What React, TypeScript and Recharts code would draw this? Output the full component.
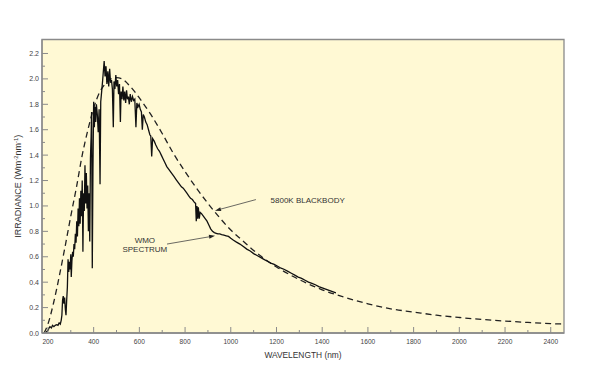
import React from 'react';
import { LineChart, Line, XAxis, YAxis, ReferenceArea, ReferenceLine, ReferenceDot, Label } from 'recharts';

// WMO extraterrestrial spectrum
const WMO_NM = [
  190, 194, 200, 205, 209, 215, 220, 226, 232, 238, 244, 249, 254, 258, 261, 264, 267, 270, 273, 276,
  279, 282, 285, 288, 291, 294, 297, 300, 302, 305, 308, 311, 314, 317, 320, 323, 326, 329, 332, 335,
  338, 341, 344, 347, 350, 353, 356, 359, 362, 365, 368, 371, 374, 377, 380, 383, 386, 389, 391, 394,
  397, 400, 403, 406, 409, 412, 416, 420, 424, 428, 431, 435, 439, 442, 446, 450, 454, 458, 462, 466,
  470, 474, 478, 482, 486, 489, 493, 497, 501, 505, 509, 513, 517, 520, 524, 528, 532, 536, 540, 544,
  548, 552, 556, 560, 565, 570, 575, 580, 585, 589, 594, 599, 604, 609, 613, 617, 622, 628, 634, 640,
  646, 650, 654, 658, 665, 672, 680, 688, 696, 704, 712, 720, 728, 736, 744, 752, 760, 768, 776, 784,
  792, 800, 808, 816, 824, 832, 840, 846, 849, 852, 855, 858, 862, 866, 872, 880, 888, 896, 904, 912,
  920, 928, 936, 944, 952, 960, 970, 980, 990, 1000, 1012, 1025, 1040, 1055, 1070, 1085, 1100, 1115, 1130, 1145,
  1160, 1175, 1190, 1205, 1220, 1235, 1250, 1265, 1280, 1295, 1310, 1325, 1340, 1355, 1370, 1385, 1400, 1415, 1430, 1445,
  1460,
];
const WMO_IRR = [
  0.0, 0.01, 0.02, 0.04, 0.05, 0.04, 0.06, 0.05, 0.06, 0.065, 0.06, 0.08, 0.07, 0.1, 0.14, 0.26, 0.29, 0.23, 0.28, 0.19,
  0.14, 0.26, 0.36, 0.58, 0.48, 0.56, 0.5, 0.62, 0.44, 0.57, 0.64, 0.6, 0.7, 0.66, 0.78, 0.71, 0.88, 0.76, 0.98, 0.84,
  1.06, 0.86, 1.12, 0.92, 1.2, 0.64, 1.1, 0.96, 1.32, 1.02, 1.26, 0.98, 1.16, 0.8, 1.1, 0.72, 1.38, 1.55, 1.74, 0.51,
  1.3, 1.82, 1.62, 1.78, 1.66, 1.8, 1.72, 1.58, 1.76, 1.17, 1.82, 1.9, 1.98, 2.05, 2.14, 2.02, 2.1, 1.96, 2.06, 1.94,
  2.08, 1.97, 1.99, 1.92, 1.62, 1.98, 1.92, 2.03, 1.94, 1.99, 1.88, 1.96, 1.66, 1.9, 1.84, 1.94, 1.83, 1.9, 1.81, 1.91,
  1.84, 1.86, 1.8, 1.88, 1.82, 1.86, 1.83, 1.84, 1.62, 1.81, 1.78, 1.8, 1.76, 1.74, 1.6, 1.72, 1.7, 1.66, 1.64, 1.6,
  1.56, 1.55, 1.39, 1.53, 1.51, 1.48, 1.45, 1.43, 1.4, 1.37, 1.34, 1.31, 1.29, 1.27, 1.25, 1.23, 1.21, 1.19, 1.17, 1.15,
  1.14, 1.12, 1.1, 1.08, 1.06, 1.05, 1.03, 1.02, 0.88, 1.0, 0.9, 0.99, 0.9, 0.95, 0.94, 0.92, 0.9, 0.88, 0.85, 0.82,
  0.8, 0.79, 0.785, 0.78, 0.78, 0.775, 0.77, 0.765, 0.76, 0.745, 0.73, 0.715, 0.7, 0.68, 0.66, 0.645, 0.625, 0.61, 0.595, 0.58,
  0.565, 0.55, 0.54, 0.525, 0.51, 0.5, 0.485, 0.47, 0.455, 0.44, 0.43, 0.415, 0.4, 0.39, 0.38, 0.365, 0.355, 0.345, 0.335, 0.325,
  0.315,
];

// 5800K blackbody curve
const BB_NM = [
  183, 200, 225, 250, 275, 300, 325, 350, 375, 400, 425, 450, 475, 500, 525, 550, 575, 600, 650, 700,
  750, 800, 850, 900, 950, 1000, 1050, 1100, 1150, 1200, 1300, 1400, 1500, 1600, 1700, 1800, 1900, 2000, 2100, 2200,
  2300, 2400, 2458,
];
const BB_IRR = [
  0.0, 0.07, 0.24, 0.45, 0.68, 0.92, 1.15, 1.4, 1.6, 1.77, 1.89, 1.96, 2.0, 2.01, 2.0, 1.96, 1.91, 1.85, 1.72, 1.57,
  1.41, 1.27, 1.14, 1.02, 0.91, 0.81, 0.73, 0.65, 0.58, 0.52, 0.42, 0.34, 0.28, 0.23, 0.19, 0.165, 0.14, 0.122, 0.107, 0.094,
  0.083, 0.074, 0.07,
];

const X_TICKS = [
  200, 300, 400, 500, 600, 700, 800, 900, 1000, 1100, 1200, 1300, 1400, 1500, 1600, 1700, 1800, 1900, 2000, 2100,
  2200, 2300, 2400,
];
const Y_TICKS = [
  0, 0.1, 0.2, 0.3, 0.4, 0.5, 0.6, 0.7, 0.8, 0.9, 1.0, 1.1, 1.2, 1.3, 1.4, 1.5, 1.6, 1.7, 1.8, 1.9, 2.0, 2.1, 2.2,
];

const X_DOMAIN = [174, 2458];
const Y_DOMAIN = [0, 2.31];

const wmoData = WMO_NM.map((nm, i) => ({ nm, v: WMO_IRR[i] }));
const bbData = BB_NM.map((nm, i) => ({ nm, v: BB_IRR[i] }));

const AXIS_GREY = '#8a8a8a';
const TEXT = '#333';
const FONT = '"Liberation Sans", Arial, sans-serif';

const XTick = (props: any) => {
  const { x, y, payload } = props;
  const major = payload.value % 200 === 0;
  return (
    <g>
      <line x1={x} x2={x} y1={y} y2={y - (major ? 6 : 3)} stroke={AXIS_GREY} strokeWidth={1} />
      {major && (
        <text x={x} y={y + 11} textAnchor="middle" fontSize={6.6} fill="#444" fontFamily={FONT}>
          {payload.value}
        </text>
      )}
    </g>
  );
};

const YTick = (props: any) => {
  const { x, y, payload } = props;
  const major = Math.round(payload.value * 10) % 2 === 0;
  return (
    <g>
      <line x1={x} x2={x + (major ? 6 : 3)} y1={y} y2={y} stroke={AXIS_GREY} strokeWidth={1} />
      {major && (
        <text x={x - 3} y={y + 2.5} textAnchor="end" fontSize={7} fill="#444" fontFamily={FONT}>
          {payload.value.toFixed(1)}
        </text>
      )}
    </g>
  );
};

// leader line with an arrow head at the second point
const Arrow = (props: any) => {
  const { x1, y1, x2, y2 } = props;
  const a = Math.atan2(y2 - y1, x2 - x1);
  const len = 6;
  const w = 2;
  const bx = x2 - len * Math.cos(a);
  const by = y2 - len * Math.sin(a);
  const px = -Math.sin(a) * w;
  const py = Math.cos(a) * w;
  return (
    <g>
      <line x1={x1} y1={y1} x2={bx} y2={by} stroke="#444" strokeWidth={0.8} />
      <polygon points={`${x2},${y2} ${bx + px},${by + py} ${bx - px},${by - py}`} fill="#222" />
    </g>
  );
};

const note = (lines: string[], anchor: 'start' | 'middle') => (props: any) => (
  <text x={props.cx} y={props.cy} textAnchor={anchor} fontSize={8} fill={TEXT} fontFamily={FONT}>
    {lines.map((t, i) => (
      <tspan key={i} x={props.cx} dy={i === 0 ? 0 : 8.5}>
        {t}
      </tspan>
    ))}
  </text>
);

export default function App() {
  return (
    <div style={{ position: 'absolute', left: 0, top: 0, width: 600, height: 372, background: '#fff' }}>
      <LineChart width={600} height={372} margin={{ top: 39.5, right: 36, bottom: 0, left: 0 }}>
        <ReferenceArea
          x1={X_DOMAIN[0]}
          x2={X_DOMAIN[1]}
          y1={Y_DOMAIN[0]}
          y2={Y_DOMAIN[1]}
          fill="#fff9d4"
          fillOpacity={1}
          stroke={AXIS_GREY}
          strokeWidth={1.3}
        />
        <XAxis
          dataKey="nm"
          type="number"
          domain={X_DOMAIN}
          allowDataOverflow
          ticks={X_TICKS}
          interval={0}
          tickSize={0}
          tickMargin={0}
          tickLine={false}
          tick={<XTick />}
          height={39}
          axisLine={{ stroke: AXIS_GREY, strokeWidth: 1.3 }}
        >
          <Label
            content={({ viewBox }: any) => (
              <text
                x={viewBox.x + viewBox.width / 2}
                y={viewBox.y + 25}
                textAnchor="middle"
                fontSize={8.4}
                fill={TEXT}
                fontFamily={FONT}
              >
                WAVELENGTH (nm)
              </text>
            )}
          />
        </XAxis>
        <YAxis
          type="number"
          domain={Y_DOMAIN}
          allowDataOverflow
          ticks={Y_TICKS}
          interval={0}
          tickSize={0}
          tickMargin={0}
          tickLine={false}
          tick={<YTick />}
          width={42}
          axisLine={{ stroke: AXIS_GREY, strokeWidth: 1.3 }}
        >
          <Label
            content={({ viewBox }: any) => {
              const cx = 21;
              const cy = viewBox.y + viewBox.height / 2;
              return (
                <text
                  x={cx}
                  y={cy}
                  textAnchor="middle"
                  fontSize={9}
                  fill={TEXT}
                  fontFamily={FONT}
                  transform={`rotate(-90 ${cx} ${cy})`}
                >
                  IRRADIANCE (Wm
                  <tspan dy={-3} fontSize={5.8}>-2</tspan>
                  <tspan dy={3}>nm</tspan>
                  <tspan dy={-3} fontSize={5.8}>-1</tspan>
                  <tspan dy={3}>)</tspan>
                </text>
              );
            }}
          />
        </YAxis>

        <Line
          data={bbData}
          dataKey="v"
          type="monotone"
          stroke="#222"
          strokeWidth={1.3}
          strokeDasharray="6 4"
          dot={false}
          activeDot={false}
          isAnimationActive={false}
        />
        <Line
          data={wmoData}
          dataKey="v"
          type="linear"
          stroke="#111"
          strokeWidth={1.3}
          dot={false}
          activeDot={false}
          isAnimationActive={false}
        />

        <ReferenceLine segment={[{ x: 1110, y: 1.05 }, { x: 931, y: 0.963 }]} shape={<Arrow />} />
        <ReferenceLine segment={[{ x: 721, y: 0.7 }, { x: 931, y: 0.765 }]} shape={<Arrow />} />
        <ReferenceDot x={1174} y={1.02} r={0} shape={note(['5800K BLACKBODY'], 'start')} />
        <ReferenceDot x={624} y={0.705} r={0} shape={note(['WMO', 'SPECTRUM'], 'middle')} />
      </LineChart>
    </div>
  );
}
